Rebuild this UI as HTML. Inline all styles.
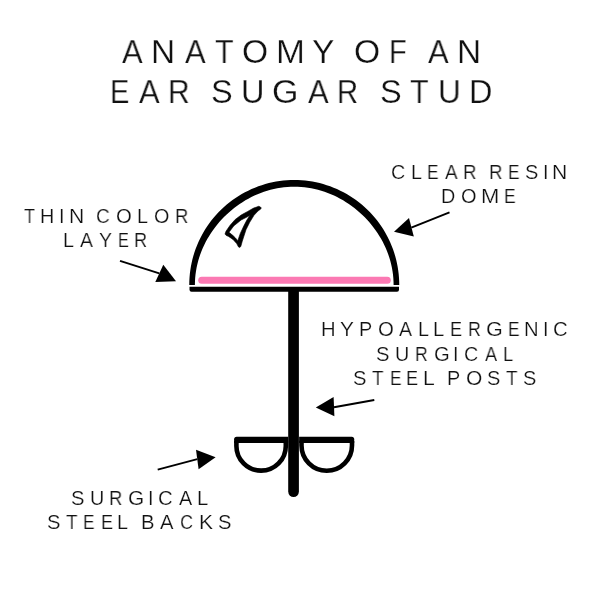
<!DOCTYPE html>
<html><head><meta charset="utf-8"><style>
html,body{margin:0;padding:0;background:#fff;width:600px;height:600px;overflow:hidden}
span{position:absolute;will-change:transform;font-family:"Liberation Sans",sans-serif;white-space:pre;color:#111;transform-origin:0 0}
.tt{-webkit-text-stroke:0.25px #fff}
.tl{-webkit-text-stroke:0.2px #fff}
</style></head><body>
<svg width="600" height="600" viewBox="0 0 600 600" style="position:absolute;left:0;top:0">
<path d="M189.25,285.00 L189.31,281.34 L189.51,277.68 L189.83,274.02 L190.27,270.39 L190.85,266.77 L191.54,263.17 L192.37,259.60 L193.32,256.06 L194.39,252.55 L195.58,249.09 L196.90,245.67 L198.33,242.29 L199.88,238.97 L201.54,235.71 L203.32,232.50 L205.20,229.36 L207.20,226.28 L209.30,223.28 L211.51,220.36 L213.82,217.51 L216.22,214.74 L218.72,212.06 L221.31,209.47 L223.99,206.97 L226.76,204.57 L229.61,202.26 L232.53,200.05 L235.53,197.95 L238.61,195.95 L241.75,194.07 L244.96,192.29 L248.22,190.63 L251.54,189.08 L254.92,187.65 L258.34,186.33 L261.80,185.14 L265.31,184.07 L268.85,183.12 L272.42,182.29 L276.02,181.60 L279.64,181.02 L283.27,180.58 L286.93,180.26 L290.59,180.06 L294.25,180.00 L297.91,180.06 L301.57,180.26 L305.23,180.58 L308.86,181.02 L312.48,181.60 L316.08,182.29 L319.65,183.12 L323.19,184.07 L326.70,185.14 L330.16,186.33 L333.58,187.65 L336.96,189.08 L340.28,190.63 L343.54,192.29 L346.75,194.07 L349.89,195.95 L352.97,197.95 L355.97,200.05 L358.89,202.26 L361.74,204.57 L364.51,206.97 L367.19,209.47 L369.78,212.06 L372.28,214.74 L374.68,217.51 L376.99,220.36 L379.20,223.28 L381.30,226.28 L383.30,229.36 L385.18,232.50 L386.96,235.71 L388.62,238.97 L390.17,242.29 L391.60,245.67 L392.92,249.09 L394.11,252.55 L395.18,256.06 L396.13,259.60 L396.96,263.17 L397.65,266.77 L398.23,270.39 L398.67,274.02 L398.99,277.68 L399.19,281.34 L399.25,285.00 L393.60,285.00 L393.53,281.53 L393.33,278.07 L392.99,274.62 L392.52,271.19 L391.93,267.78 L391.20,264.39 L390.34,261.04 L389.37,257.73 L388.27,254.45 L387.05,251.22 L385.72,248.04 L384.28,244.91 L382.73,241.84 L381.08,238.83 L379.33,235.88 L377.48,232.99 L375.54,230.17 L373.51,227.42 L371.39,224.73 L369.19,222.12 L366.91,219.58 L364.54,217.12 L362.11,214.73 L359.60,212.43 L357.01,210.20 L354.36,208.06 L351.64,206.00 L348.86,204.04 L346.02,202.16 L343.11,200.37 L340.14,198.69 L337.12,197.10 L334.05,195.61 L330.92,194.23 L327.75,192.95 L324.54,191.79 L321.28,190.74 L317.98,189.80 L314.66,188.99 L311.30,188.30 L307.92,187.73 L304.52,187.28 L301.11,186.96 L297.68,186.77 L294.25,186.70 L290.82,186.77 L287.39,186.96 L283.98,187.28 L280.58,187.73 L277.20,188.30 L273.84,188.99 L270.52,189.80 L267.22,190.74 L263.96,191.79 L260.75,192.95 L257.58,194.23 L254.45,195.61 L251.38,197.10 L248.36,198.69 L245.39,200.37 L242.48,202.16 L239.64,204.04 L236.86,206.00 L234.14,208.06 L231.49,210.20 L228.90,212.43 L226.39,214.73 L223.96,217.12 L221.59,219.58 L219.31,222.12 L217.11,224.73 L214.99,227.42 L212.96,230.17 L211.02,232.99 L209.17,235.88 L207.42,238.83 L205.77,241.84 L204.22,244.91 L202.78,248.04 L201.45,251.22 L200.23,254.45 L199.13,257.73 L198.16,261.04 L197.30,264.39 L196.57,267.78 L195.98,271.19 L195.51,274.62 L195.17,278.07 L194.97,281.53 L194.90,285.00 Z" fill="#000"/>
<line x1="201.7" y1="280.2" x2="387.3" y2="280.2" stroke="#fb79b3" stroke-width="7" stroke-linecap="round"/>
<path d="M189.5,286.7 H399 V289.7 A2,2 0 0 1 397,291.7 H191.5 A2,2 0 0 1 189.5,289.7 Z" fill="#000"/>
<path d="M260.4,206.9 L258.7,206.3 253.6,208.1 247.7,211.4 241.1,215.1 235.2,219.5 230.1,225.3 226.0,231.2 225.0,234.0 226.0,235.3 228.6,236.5 233.0,239.4 236.7,243.6 238.5,246.9 239.6,247.5 240.8,246.5 242.2,241.5 243.3,238.0 246.0,229.7 249.7,222.3 254.0,215.3 258.0,211.0 260.5,209.2 261.3,208.0 Z M249.9,215.6 L247.0,219.8 244.0,225.5 240.3,233.4 237.8,240.7 235.5,238.0 233.0,235.6 229.0,232.3 233.7,226.0 241.1,220.0 Z" fill="#000" fill-rule="evenodd" stroke="#000" stroke-width="0.6" stroke-linejoin="round"/>
<path d="M288.2,291 V491.6 A5.35,5.35 0 0 0 298.9,491.6 V291 Z" fill="#000"/>
<path d="M236.4,441 V445.9 A24.7,24.7 0 0 0 285.8,445.9 V441" fill="none" stroke="#000" stroke-width="4.6"/>
<path d="M236.6,436.7 H288.1 V442.9 H234.1 V439.2 A2.5,2.5 0 0 1 236.6,436.7 Z" fill="#000"/>
<path d="M301.5,441 V445.5 A25.25,25.25 0 0 0 352,445.5 V441" fill="none" stroke="#000" stroke-width="4.6"/>
<path d="M299.1,436.7 H351.7 A2.5,2.5 0 0 1 354.2,439.2 V442.9 H299.1 Z" fill="#000"/>
<g stroke="#000" stroke-width="1.9" fill="#000">
<line x1="120" y1="260.9" x2="159.3" y2="273.3"/>
<polygon points="163.3,264.7 155.3,282 176,281.3" stroke="none"/>
<line x1="449.5" y1="212.3" x2="411.3" y2="227.6"/>
<polygon points="394.0,231.7 409.0,218.0 413.8,236.6" stroke="none"/>
<line x1="374.3" y1="400.0" x2="334" y2="407.2"/>
<polygon points="315.8,407.5 333.6,397.0 334.4,416.2" stroke="none"/>
<line x1="157.7" y1="469.6" x2="197.3" y2="459.1"/>
<polygon points="215.6,457.2 196,449.8 198.6,469.2" stroke="none"/>
</g>
</svg>
<span class="tt" style="left:122.00px;top:35.90px;font-size:32.5px;line-height:32.5px;transform:scaleX(0.953)">A</span>
<span class="tt" style="left:151.43px;top:35.90px;font-size:32.5px;line-height:32.5px;transform:scaleX(1.027)">N</span>
<span class="tt" style="left:184.50px;top:35.90px;font-size:32.5px;line-height:32.5px;transform:scaleX(0.953)">A</span>
<span class="tt" style="left:214.53px;top:35.90px;font-size:32.5px;line-height:32.5px;transform:scaleX(0.933)">T</span>
<span class="tt" style="left:241.95px;top:35.90px;font-size:32.5px;line-height:32.5px;transform:scaleX(1.034)">O</span>
<span class="tt" style="left:275.83px;top:35.90px;font-size:32.5px;line-height:32.5px;transform:scaleX(1.068)">M</span>
<span class="tt" style="left:312.22px;top:35.90px;font-size:32.5px;line-height:32.5px;transform:scaleX(1.037)">Y</span>
<span class="tt" style="left:354.45px;top:35.90px;font-size:32.5px;line-height:32.5px;transform:scaleX(1.034)">O</span>
<span class="tt" style="left:388.77px;top:35.90px;font-size:32.5px;line-height:32.5px;transform:scaleX(0.892)">F</span>
<span class="tt" style="left:427.50px;top:35.90px;font-size:32.5px;line-height:32.5px;transform:scaleX(0.953)">A</span>
<span class="tt" style="left:456.93px;top:35.90px;font-size:32.5px;line-height:32.5px;transform:scaleX(1.027)">N</span>
<span class="tt" style="left:109.78px;top:75.60px;font-size:32.5px;line-height:32.5px;transform:scaleX(0.889)">E</span>
<span class="tt" style="left:138.50px;top:75.60px;font-size:32.5px;line-height:32.5px;transform:scaleX(0.953)">A</span>
<span class="tt" style="left:168.19px;top:75.60px;font-size:32.5px;line-height:32.5px;transform:scaleX(0.923)">R</span>
<span class="tt" style="left:210.52px;top:75.60px;font-size:32.5px;line-height:32.5px;transform:scaleX(0.987)">S</span>
<span class="tt" style="left:240.50px;top:75.60px;font-size:32.5px;line-height:32.5px">U</span>
<span class="tt" style="left:272.43px;top:75.60px;font-size:32.5px;line-height:32.5px;transform:scaleX(1.047)">G</span>
<span class="tt" style="left:307.50px;top:75.60px;font-size:32.5px;line-height:32.5px;transform:scaleX(0.953)">A</span>
<span class="tt" style="left:337.26px;top:75.60px;font-size:32.5px;line-height:32.5px;transform:scaleX(0.897)">R</span>
<span class="tt" style="left:379.52px;top:75.60px;font-size:32.5px;line-height:32.5px;transform:scaleX(0.987)">S</span>
<span class="tt" style="left:410.03px;top:75.60px;font-size:32.5px;line-height:32.5px;transform:scaleX(0.933)">T</span>
<span class="tt" style="left:437.57px;top:75.60px;font-size:32.5px;line-height:32.5px;transform:scaleX(0.973)">U</span>
<span class="tt" style="left:468.50px;top:75.60px;font-size:32.5px;line-height:32.5px">D</span>
<span class="tl" style="left:23.52px;top:206.95px;font-size:19.8px;line-height:19.8px;transform:scaleX(0.913)">T</span>
<span class="tl" style="left:40.25px;top:206.95px;font-size:19.8px;line-height:19.8px">H</span>
<span class="tl" style="left:58.65px;top:206.95px;font-size:19.8px;line-height:19.8px">I</span>
<span class="tl" style="left:68.50px;top:206.95px;font-size:19.8px;line-height:19.8px;transform:scaleX(1.067)">N</span>
<span class="tl" style="left:96.04px;top:206.95px;font-size:19.8px;line-height:19.8px;transform:scaleX(0.960)">C</span>
<span class="tl" style="left:116.33px;top:206.95px;font-size:19.8px;line-height:19.8px;transform:scaleX(1.029)">O</span>
<span class="tl" style="left:137.25px;top:206.95px;font-size:19.8px;line-height:19.8px;transform:scaleX(0.967)">L</span>
<span class="tl" style="left:153.95px;top:206.95px;font-size:19.8px;line-height:19.8px">O</span>
<span class="tl" style="left:174.90px;top:206.95px;font-size:19.8px;line-height:19.8px;transform:scaleX(0.936)">R</span>
<span class="tl" style="left:63.40px;top:230.65px;font-size:19.8px;line-height:19.8px">L</span>
<span class="tl" style="left:79.90px;top:230.65px;font-size:19.8px;line-height:19.8px;transform:scaleX(0.977)">A</span>
<span class="tl" style="left:98.91px;top:230.65px;font-size:19.8px;line-height:19.8px;transform:scaleX(0.980)">Y</span>
<span class="tl" style="left:117.67px;top:230.65px;font-size:19.8px;line-height:19.8px;transform:scaleX(0.818)">E</span>
<span class="tl" style="left:134.36px;top:230.65px;font-size:19.8px;line-height:19.8px;transform:scaleX(0.923)">R</span>
<span class="tl" style="left:390.51px;top:162.75px;font-size:19.8px;line-height:19.8px">C</span>
<span class="tl" style="left:410.63px;top:162.75px;font-size:19.8px;line-height:19.8px;transform:scaleX(0.978)">L</span>
<span class="tl" style="left:426.89px;top:162.75px;font-size:19.8px;line-height:19.8px;transform:scaleX(0.873)">E</span>
<span class="tl" style="left:444.90px;top:162.75px;font-size:19.8px;line-height:19.8px;transform:scaleX(0.954)">A</span>
<span class="tl" style="left:462.68px;top:162.75px;font-size:19.8px;line-height:19.8px;transform:scaleX(0.945)">R</span>
<span class="tl" style="left:488.58px;top:162.75px;font-size:19.8px;line-height:19.8px;transform:scaleX(0.945)">R</span>
<span class="tl" style="left:507.99px;top:162.75px;font-size:19.8px;line-height:19.8px;transform:scaleX(0.873)">E</span>
<span class="tl" style="left:524.89px;top:162.75px;font-size:19.8px;line-height:19.8px;transform:scaleX(1.013)">S</span>
<span class="tl" style="left:542.70px;top:162.75px;font-size:19.8px;line-height:19.8px">I</span>
<span class="tl" style="left:552.30px;top:162.75px;font-size:19.8px;line-height:19.8px;transform:scaleX(1.067)">N</span>
<span class="tl" style="left:441.05px;top:186.95px;font-size:19.8px;line-height:19.8px;transform:scaleX(0.967)">D</span>
<span class="tl" style="left:460.84px;top:186.95px;font-size:19.8px;line-height:19.8px;transform:scaleX(1.011)">O</span>
<span class="tl" style="left:481.23px;top:186.95px;font-size:19.8px;line-height:19.8px;transform:scaleX(1.111)">M</span>
<span class="tl" style="left:504.48px;top:186.95px;font-size:19.8px;line-height:19.8px;transform:scaleX(0.882)">E</span>
<span class="tl" style="left:321.07px;top:320.00px;font-size:19.8px;line-height:19.8px;transform:scaleX(1.022)">H</span>
<span class="tl" style="left:340.37px;top:320.00px;font-size:19.8px;line-height:19.8px;transform:scaleX(1.053)">Y</span>
<span class="tl" style="left:359.23px;top:320.00px;font-size:19.8px;line-height:19.8px;transform:scaleX(0.977)">P</span>
<span class="tl" style="left:378.03px;top:320.00px;font-size:19.8px;line-height:19.8px;transform:scaleX(1.033)">O</span>
<span class="tl" style="left:399.40px;top:320.00px;font-size:19.8px;line-height:19.8px;transform:scaleX(0.985)">A</span>
<span class="tl" style="left:417.83px;top:320.00px;font-size:19.8px;line-height:19.8px;transform:scaleX(0.978)">L</span>
<span class="tl" style="left:433.37px;top:320.00px;font-size:19.8px;line-height:19.8px;transform:scaleX(1.022)">L</span>
<span class="tl" style="left:450.02px;top:320.00px;font-size:19.8px;line-height:19.8px;transform:scaleX(0.918)">E</span>
<span class="tl" style="left:467.86px;top:320.00px;font-size:19.8px;line-height:19.8px;transform:scaleX(0.894)">R</span>
<span class="tl" style="left:486.01px;top:320.00px;font-size:19.8px;line-height:19.8px;transform:scaleX(1.092)">G</span>
<span class="tl" style="left:507.79px;top:320.00px;font-size:19.8px;line-height:19.8px;transform:scaleX(0.873)">E</span>
<span class="tl" style="left:524.47px;top:320.00px;font-size:19.8px;line-height:19.8px;transform:scaleX(1.022)">N</span>
<span class="tl" style="left:542.80px;top:320.00px;font-size:19.8px;line-height:19.8px">I</span>
<span class="tl" style="left:553.37px;top:320.00px;font-size:19.8px;line-height:19.8px;transform:scaleX(1.032)">C</span>
<span class="tl" style="left:375.98px;top:344.75px;font-size:19.8px;line-height:19.8px;transform:scaleX(1.022)">S</span>
<span class="tl" style="left:394.80px;top:344.75px;font-size:19.8px;line-height:19.8px">U</span>
<span class="tl" style="left:414.67px;top:344.75px;font-size:19.8px;line-height:19.8px;transform:scaleX(0.885)">R</span>
<span class="tl" style="left:433.68px;top:344.75px;font-size:19.8px;line-height:19.8px;transform:scaleX(1.023)">G</span>
<span class="tl" style="left:453.05px;top:344.75px;font-size:19.8px;line-height:19.8px">I</span>
<span class="tl" style="left:464.01px;top:344.75px;font-size:19.8px;line-height:19.8px">C</span>
<span class="tl" style="left:484.70px;top:344.75px;font-size:19.8px;line-height:19.8px;transform:scaleX(0.923)">A</span>
<span class="tl" style="left:503.02px;top:344.75px;font-size:19.8px;line-height:19.8px;transform:scaleX(0.922)">L</span>
<span class="tl" style="left:353.28px;top:368.55px;font-size:19.8px;line-height:19.8px;transform:scaleX(1.022)">S</span>
<span class="tl" style="left:372.36px;top:368.55px;font-size:19.8px;line-height:19.8px;transform:scaleX(0.957)">T</span>
<span class="tl" style="left:389.69px;top:368.55px;font-size:19.8px;line-height:19.8px;transform:scaleX(0.873)">E</span>
<span class="tl" style="left:406.42px;top:368.55px;font-size:19.8px;line-height:19.8px;transform:scaleX(0.918)">E</span>
<span class="tl" style="left:423.20px;top:368.55px;font-size:19.8px;line-height:19.8px;transform:scaleX(1.067)">L</span>
<span class="tl" style="left:446.72px;top:368.55px;font-size:19.8px;line-height:19.8px;transform:scaleX(0.986)">P</span>
<span class="tl" style="left:465.80px;top:368.55px;font-size:19.8px;line-height:19.8px;transform:scaleX(1.062)">O</span>
<span class="tl" style="left:486.69px;top:368.55px;font-size:19.8px;line-height:19.8px;transform:scaleX(1.013)">S</span>
<span class="tl" style="left:505.76px;top:368.55px;font-size:19.8px;line-height:19.8px;transform:scaleX(0.957)">T</span>
<span class="tl" style="left:522.99px;top:368.55px;font-size:19.8px;line-height:19.8px;transform:scaleX(1.013)">S</span>
<span class="tl" style="left:70.98px;top:489.05px;font-size:19.8px;line-height:19.8px;transform:scaleX(1.022)">S</span>
<span class="tl" style="left:89.80px;top:489.05px;font-size:19.8px;line-height:19.8px">U</span>
<span class="tl" style="left:108.70px;top:489.05px;font-size:19.8px;line-height:19.8px;transform:scaleX(0.936)">R</span>
<span class="tl" style="left:127.75px;top:489.05px;font-size:19.8px;line-height:19.8px;transform:scaleX(1.054)">G</span>
<span class="tl" style="left:147.55px;top:489.05px;font-size:19.8px;line-height:19.8px">I</span>
<span class="tl" style="left:158.47px;top:489.05px;font-size:19.8px;line-height:19.8px;transform:scaleX(1.032)">C</span>
<span class="tl" style="left:178.80px;top:489.05px;font-size:19.8px;line-height:19.8px">A</span>
<span class="tl" style="left:196.97px;top:489.05px;font-size:19.8px;line-height:19.8px;transform:scaleX(1.022)">L</span>
<span class="tl" style="left:47.08px;top:512.75px;font-size:19.8px;line-height:19.8px;transform:scaleX(1.022)">S</span>
<span class="tl" style="left:66.26px;top:512.75px;font-size:19.8px;line-height:19.8px;transform:scaleX(0.957)">T</span>
<span class="tl" style="left:83.09px;top:512.75px;font-size:19.8px;line-height:19.8px;transform:scaleX(0.873)">E</span>
<span class="tl" style="left:100.52px;top:512.75px;font-size:19.8px;line-height:19.8px;transform:scaleX(0.918)">E</span>
<span class="tl" style="left:117.45px;top:512.75px;font-size:19.8px;line-height:19.8px;transform:scaleX(0.967)">L</span>
<span class="tl" style="left:140.77px;top:512.75px;font-size:19.8px;line-height:19.8px;transform:scaleX(1.023)">B</span>
<span class="tl" style="left:159.70px;top:512.75px;font-size:19.8px;line-height:19.8px;transform:scaleX(1.023)">A</span>
<span class="tl" style="left:179.89px;top:512.75px;font-size:19.8px;line-height:19.8px;transform:scaleX(0.912)">C</span>
<span class="tl" style="left:198.50px;top:512.75px;font-size:19.8px;line-height:19.8px;transform:scaleX(1.067)">K</span>
<span class="tl" style="left:218.38px;top:512.75px;font-size:19.8px;line-height:19.8px;transform:scaleX(1.022)">S</span>
</body></html>
